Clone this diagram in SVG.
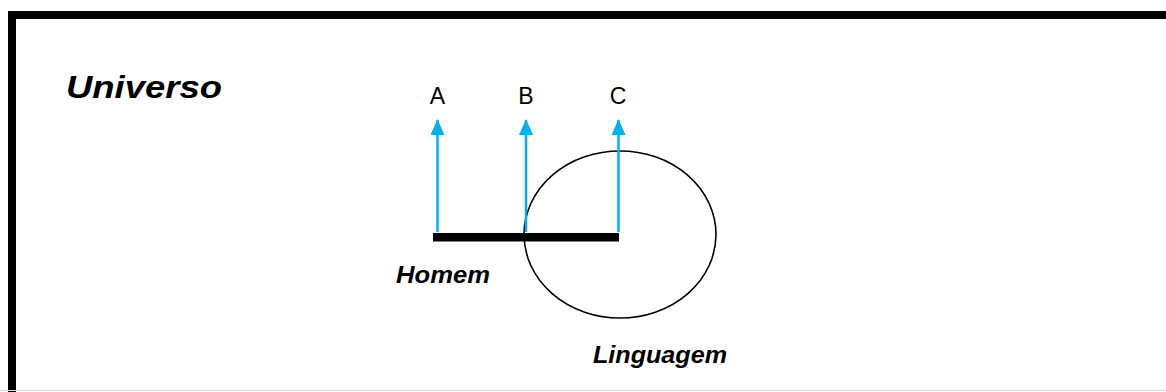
<svg xmlns="http://www.w3.org/2000/svg" width="1166" height="392" viewBox="0 0 1166 392">
<style>
.lbl{font-family:"Liberation Sans",Arial,sans-serif;font-weight:bold;font-style:italic;fill:#000}
.abc{font-family:"Liberation Sans",Arial,sans-serif;font-size:23px;fill:#000;text-anchor:middle}
.arr{stroke:#00B0F0;stroke-width:2.5;fill:none;marker-end:url(#ah)}
</style>
<defs>
<marker id="ah" viewBox="0 0 16 14" refX="15" refY="7" markerWidth="16" markerHeight="14" markerUnits="userSpaceOnUse" orient="auto">
<path d="M0,0 L16,7 L0,14 Z" fill="#00B0F0"/>
</marker>
</defs>
<rect width="1166" height="392" fill="#fff"/>
<g id="frame">
<path d="M12,392 V15 H1166" fill="none" stroke="#000" stroke-width="8"/>
<line x1="0" y1="390.5" x2="1166" y2="390.5" stroke="#ddd" stroke-width="1"/>
</g>
<g id="universo"><text class="lbl" x="66" y="98" font-size="32" textLength="156" lengthAdjust="spacingAndGlyphs">Universo</text></g>
<g id="linguagem">
<ellipse cx="620" cy="234.5" rx="96" ry="83.5" fill="none" stroke="#000" stroke-width="1.6"/>
<text class="lbl" x="593" y="363" font-size="24" textLength="134" lengthAdjust="spacingAndGlyphs">Linguagem</text>
</g>
<g id="connectors">
<line class="arr" x1="437.5" y1="232" x2="437.5" y2="120"/>
<line class="arr" x1="526" y1="232" x2="526" y2="120"/>
<line class="arr" x1="618.5" y1="232" x2="618.5" y2="120"/>
</g>
<g id="homem">
<rect x="433" y="233" width="186" height="8.5" fill="#000"/>
<text class="lbl" x="396" y="283" font-size="24" textLength="94" lengthAdjust="spacingAndGlyphs">Homem</text>
</g>
<g id="labelA"><text class="abc" x="437.5" y="104">A</text></g>
<g id="labelB"><text class="abc" x="526" y="104">B</text></g>
<g id="labelC"><text class="abc" x="618" y="104">C</text></g>
</svg>
